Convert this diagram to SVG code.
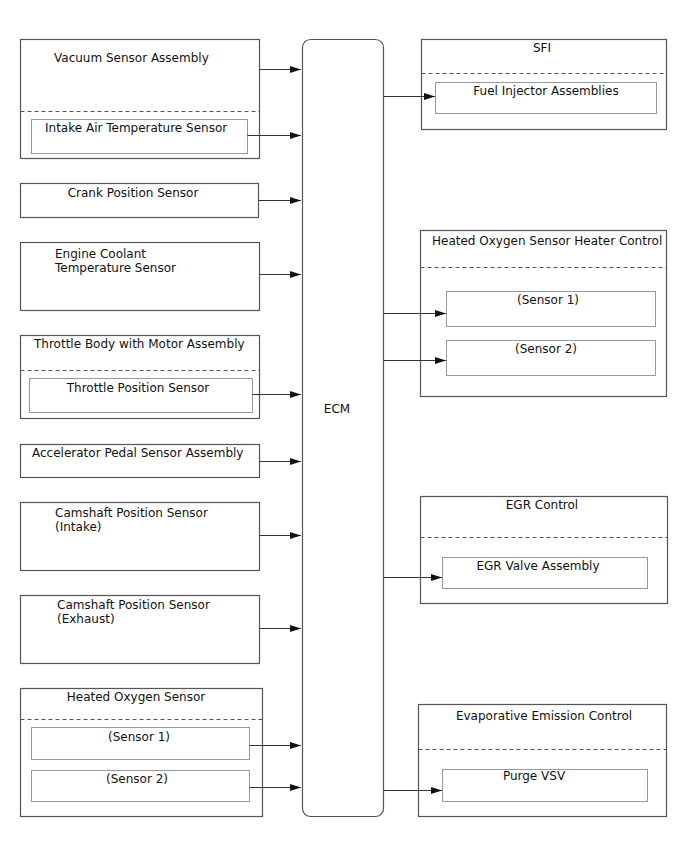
<svg xmlns="http://www.w3.org/2000/svg" width="688" height="852" viewBox="0 0 688 852">
<style>
.o{fill:#fff;stroke:#555;stroke-width:1.2}
.i{fill:#fff;stroke:#999;stroke-width:1}
.d{stroke:#555;stroke-width:1;stroke-dasharray:4,3;fill:none}
.t{font-family:"DejaVu Sans",sans-serif;font-size:12px;fill:#111}
.m{text-anchor:middle}
.c{stroke:#333;stroke-width:1;fill:none;marker-end:url(#a)}
</style>
<defs>
<marker id="a" markerWidth="11" markerHeight="8" refX="11" refY="4" orient="auto" markerUnits="userSpaceOnUse">
<path d="M0,0.5 L11,4 L0,7.5 Z" fill="#111"/>
</marker>
</defs>
<rect width="688" height="852" fill="#fff"/>
<g id="vacuum">
<rect class="o" x="20.5" y="39.5" width="239" height="119"/>
<line class="d" x1="20.5" y1="111.5" x2="259.5" y2="111.5"/>
<text class="t" x="54" y="62">Vacuum Sensor Assembly</text>
</g>
<g id="iat">
<rect class="i" x="31.5" y="119.5" width="216" height="34"/>
<text class="t" x="45" y="132">Intake Air Temperature Sensor</text>
</g>
<g id="crank">
<rect class="o" x="20.5" y="183.5" width="238" height="34"/>
<text class="t m" x="133" y="197">Crank Position Sensor</text>
</g>
<g id="ect">
<rect class="o" x="20.5" y="242.5" width="239" height="68"/>
<text class="t" x="55" y="258">Engine Coolant</text>
<text class="t" x="55" y="272">Temperature Sensor</text>
</g>
<g id="throttle">
<rect class="o" x="20.5" y="335.5" width="239" height="83"/>
<line class="d" x1="20.5" y1="370.5" x2="259.5" y2="370.5"/>
<text class="t" x="34" y="348">Throttle Body with Motor Assembly</text>
</g>
<g id="tps">
<rect class="i" x="29.5" y="378.5" width="223" height="34"/>
<text class="t m" x="138" y="392">Throttle Position Sensor</text>
</g>
<g id="accel">
<rect class="o" x="20.5" y="444.5" width="239" height="33"/>
<text class="t" x="32" y="457">Accelerator Pedal Sensor Assembly</text>
</g>
<g id="cam-intake">
<rect class="o" x="20.5" y="502.5" width="239" height="68"/>
<text class="t" x="55" y="517">Camshaft Position Sensor</text>
<text class="t" x="55" y="531">(Intake)</text>
</g>
<g id="cam-exhaust">
<rect class="o" x="20.5" y="595.5" width="239" height="68"/>
<text class="t" x="57" y="609">Camshaft Position Sensor</text>
<text class="t" x="57" y="623">(Exhaust)</text>
</g>
<g id="ho2s">
<rect class="o" x="20.5" y="688.5" width="242" height="128"/>
<line class="d" x1="20.5" y1="719.5" x2="262.5" y2="719.5"/>
<text class="t m" x="136" y="701">Heated Oxygen Sensor</text>
</g>
<g id="ho2s-s1">
<rect class="i" x="31.5" y="727.5" width="218" height="32"/>
<text class="t m" x="139" y="741">(Sensor 1)</text>
</g>
<g id="ho2s-s2">
<rect class="i" x="31.5" y="770.5" width="218" height="31"/>
<text class="t m" x="137" y="783">(Sensor 2)</text>
</g>
<g id="ecm">
<rect class="o" x="302.5" y="39.5" width="81" height="777" rx="8"/>
<text class="t m" x="337" y="413">ECM</text>
</g>
<g id="sfi">
<rect class="o" x="421.5" y="39.5" width="245" height="90"/>
<line class="d" x1="421.5" y1="73.5" x2="666.5" y2="73.5"/>
<text class="t m" x="542" y="52">SFI</text>
</g>
<g id="injector">
<rect class="i" x="435.5" y="82.5" width="221" height="31"/>
<text class="t m" x="546" y="95">Fuel Injector Assemblies</text>
</g>
<g id="heater">
<rect class="o" x="420.5" y="230.5" width="246" height="166"/>
<line class="d" x1="420.5" y1="267.5" x2="666.5" y2="267.5"/>
<text class="t" x="432" y="245">Heated Oxygen Sensor Heater Control</text>
</g>
<g id="heater-s1">
<rect class="i" x="446.5" y="291.5" width="209" height="35"/>
<text class="t m" x="548" y="304">(Sensor 1)</text>
</g>
<g id="heater-s2">
<rect class="i" x="446.5" y="340.5" width="209" height="35"/>
<text class="t m" x="546" y="353">(Sensor 2)</text>
</g>
<g id="egr">
<rect class="o" x="420.5" y="496.5" width="247" height="107"/>
<line class="d" x1="420.5" y1="537.5" x2="667.5" y2="537.5"/>
<text class="t m" x="542" y="509">EGR Control</text>
</g>
<g id="egr-valve">
<rect class="i" x="442.5" y="557.5" width="205" height="31"/>
<text class="t m" x="538" y="570">EGR Valve Assembly</text>
</g>
<g id="evap">
<rect class="o" x="418.5" y="704.5" width="248" height="112"/>
<line class="d" x1="418.5" y1="749.5" x2="666.5" y2="749.5"/>
<text class="t m" x="544" y="720">Evaporative Emission Control</text>
</g>
<g id="purge">
<rect class="i" x="442.5" y="769.5" width="205" height="32"/>
<text class="t m" x="534" y="780">Purge VSV</text>
</g>
<g id="connectors">
<line class="c" x1="259.5" y1="69.5" x2="301" y2="69.5"/>
<line class="c" x1="247.5" y1="135.5" x2="301" y2="135.5"/>
<line class="c" x1="258.5" y1="200.5" x2="301" y2="200.5"/>
<line class="c" x1="259.5" y1="274.5" x2="301" y2="274.5"/>
<line class="c" x1="252.5" y1="394.5" x2="301" y2="394.5"/>
<line class="c" x1="259.5" y1="461.5" x2="301" y2="461.5"/>
<line class="c" x1="259.5" y1="535.5" x2="301" y2="535.5"/>
<line class="c" x1="259.5" y1="628.5" x2="301" y2="628.5"/>
<line class="c" x1="249.5" y1="745.5" x2="301" y2="745.5"/>
<line class="c" x1="249.5" y1="787.5" x2="301" y2="787.5"/>
<line class="c" x1="383.5" y1="96.5" x2="435" y2="96.5"/>
<line class="c" x1="383.5" y1="313.5" x2="446" y2="313.5"/>
<line class="c" x1="383.5" y1="360.5" x2="446" y2="360.5"/>
<line class="c" x1="383.5" y1="577.5" x2="442" y2="577.5"/>
<line class="c" x1="383.5" y1="790.5" x2="442" y2="790.5"/>
</g>
</svg>
